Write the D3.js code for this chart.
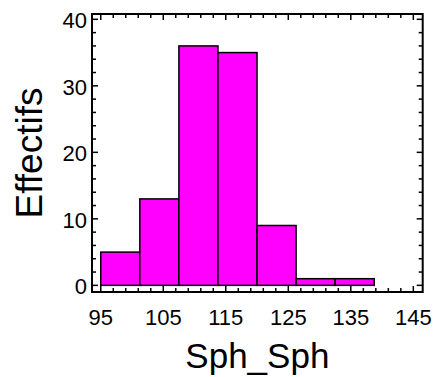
<!DOCTYPE html>
<html><head><meta charset="utf-8">
<script src="https://cdn.jsdelivr.net/npm/d3@7"></script>
<style>body{margin:0;background:#fff}svg{display:block}text{font-family:Arial,"Liberation Sans",sans-serif;fill:#000}</style>
</head><body>
<svg id="c" width="437" height="377"></svg>
<script>
const binStarts = [95, 101.25, 107.5, 113.75, 120, 126.25, 132.5, 138.75];
const binWidth = 6.25;
const counts = [5, 13, 36, 35, 9, 1, 1, 0];
const xTickLabels = [95, 105, 115, 125, 135, 145];
const yTickLabels = [0, 10, 20, 30, 40];
const xTitle = "Sph_Sph";
const yTitle = "Effectifs";

const svg = d3.select("#c");
const L = 92, R = 422.7, T = 14, B = 292;
const x = d3.scaleLinear().domain([93.6, 146.5]).range([L, R]);
const y = d3.scaleLinear().domain([-1, 40.8]).range([B, T]);

// bars
svg.append("g").selectAll("rect").data(counts).join("rect")
  .attr("x", (d,i) => x(binStarts[i]))
  .attr("width", (d,i) => x(binStarts[i] + binWidth) - x(binStarts[i]))
  .attr("y", d => y(d))
  .attr("height", d => y(0) - y(d))
  .attr("fill", "#ff00ff").attr("stroke", "#000").attr("stroke-width", 1.5);

// ticks
const xMinor = d3.range(95, 145.01, 2);
const yMinor = d3.range(0, 40.01, 2);
const tg = svg.append("g").attr("stroke", "#000").attr("stroke-width", 1.5);
const isMajX = v => Math.abs((v - 95) % 10) < 1e-6;
const isMajY = v => Math.abs(v % 10) < 1e-6;
xMinor.forEach(v => {
  const len = isMajX(v) ? 6 : 4;
  tg.append("line").attr("x1", x(v)).attr("x2", x(v)).attr("y1", B).attr("y2", B - len);
  tg.append("line").attr("x1", x(v)).attr("x2", x(v)).attr("y1", T).attr("y2", T + len);
});
yMinor.forEach(v => {
  const len = isMajY(v) ? 6 : 4;
  tg.append("line").attr("y1", y(v)).attr("y2", y(v)).attr("x1", L).attr("x2", L + len);
  tg.append("line").attr("y1", y(v)).attr("y2", y(v)).attr("x1", R).attr("x2", R - len);
});

// frame
svg.append("rect").attr("x", L).attr("y", T).attr("width", R - L).attr("height", B - T)
  .attr("fill", "none").attr("stroke", "#000").attr("stroke-width", 2);

// tick labels
svg.append("g").selectAll("text").data(xTickLabels).join("text")
  .attr("x", d => x(d)).attr("y", 325).attr("text-anchor", "middle")
  .attr("font-size", 22).text(d => d);
svg.append("g").selectAll("text").data(yTickLabels).join("text")
  .attr("x", 87).attr("y", d => y(d) + 9).attr("text-anchor", "end")
  .attr("font-size", 22).text(d => d);

// titles
svg.append("text").attr("x", (L + R) / 2).attr("y", 368).attr("text-anchor", "middle")
  .attr("font-size", 35).text(xTitle);
svg.append("text").attr("transform", `translate(42,${(T + B) / 2}) rotate(-90)`)
  .attr("text-anchor", "middle").attr("font-size", 37).text(yTitle);
</script>
</body></html>
